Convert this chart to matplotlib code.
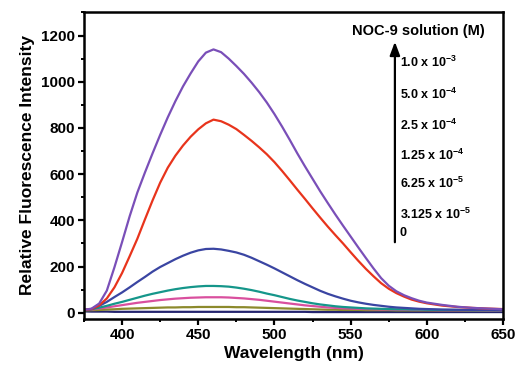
import numpy as np
import matplotlib
matplotlib.use("Agg")
import matplotlib.pyplot as plt
from matplotlib.ticker import MultipleLocator

plt.rcParams['font.family'] = ['Liberation Sans', 'DejaVu Sans']
plt.rcParams['font.weight'] = 'bold'
plt.rcParams['mathtext.fontset'] = 'custom'
plt.rcParams['mathtext.rm'] = 'Liberation Sans:bold'
plt.rcParams['mathtext.it'] = 'Liberation Sans:bold'
plt.rcParams['mathtext.bf'] = 'Liberation Sans:bold'

# wavelength (nm)
wavelength = [375, 380, 385, 390, 395, 400, 405, 410, 415, 420, 425, 430, 435, 440, 445,
              450, 455, 460, 465, 470, 475, 480, 485, 490, 495, 500, 505, 510, 515, 520,
              525, 530, 535, 540, 545, 550, 555, 560, 565, 570, 575, 580, 585, 590, 595,
              600, 610, 620, 630, 640, 650]

# fluorescence intensity for each NOC-9 concentration
i_1e3 = [12, 18, 40, 96, 197, 306, 418, 520, 607, 690, 770, 846, 916, 980, 1036,
         1088, 1126, 1140, 1128, 1100, 1068, 1034, 996, 955, 910, 860, 806, 749, 690, 634,
         580, 526, 475, 425, 377, 330, 283, 237, 192, 150, 117, 93, 76, 63, 52,
         44, 34, 26, 21, 18, 15]
i_5e4 = [12, 16, 32, 62, 110, 172, 245, 320, 404, 486, 563, 628, 680, 724, 762,
         794, 820, 836, 829, 814, 795, 770, 744, 716, 686, 652, 614, 574, 533, 493,
         452, 412, 373, 336, 300, 262, 225, 190, 158, 128, 104, 85, 70, 57, 48,
         41, 31, 25, 21, 18, 16]
i_25e4 = [12, 16, 30, 47, 68, 88, 110, 133, 155, 178, 198, 215, 232, 247, 260,
          270, 276, 277, 274, 268, 261, 251, 238, 223, 208, 192, 175, 158, 141, 125,
          110, 95, 82, 71, 61, 52, 45, 39, 34, 30, 26, 23, 21, 19, 17,
          16, 14, 13, 12, 12, 11]
i_125e4 = [12, 15, 22, 30, 39, 47, 56, 65, 74, 82, 89, 96, 102, 107, 111,
           114, 116, 116, 115, 113, 109, 104, 98, 91, 83, 76, 68, 60, 53, 47,
           41, 36, 32, 28, 25, 23, 21, 19, 18, 17, 16, 15, 15, 14, 14,
           13, 12, 12, 11, 11, 11]
i_625e5 = [12, 14, 18, 23, 28, 33, 38, 43, 47, 51, 55, 58, 61, 63, 65,
           66, 67, 67, 67, 66, 64, 62, 59, 56, 52, 48, 44, 40, 36, 32,
           29, 26, 23, 21, 19, 18, 17, 16, 15, 14, 14, 13, 13, 12, 12,
           12, 11, 11, 11, 10, 10]
i_3125e5 = [10, 11, 12, 14, 15, 17, 18, 19, 20, 21, 22, 23, 23, 24, 24,
            25, 25, 25, 25, 25, 24, 24, 23, 22, 21, 20, 19, 18, 17, 16,
            15, 14, 13, 13, 12, 12, 12, 11, 11, 11, 11, 10, 10, 10, 10,
            10, 10, 10, 9, 9, 9]
i_0 = [6, 5, 5, 5, 4, 4, 4, 4, 4, 4, 4, 4, 4, 4, 4,
       4, 4, 4, 4, 4, 4, 4, 4, 4, 4, 4, 4, 4, 4, 4,
       3, 3, 3, 3, 3, 3, 3, 3, 3, 3, 3, 3, 3, 3, 3,
       3, 3, 3, 3, 3, 3]

series = [i_0, i_3125e5, i_625e5, i_125e4, i_25e4, i_5e4, i_1e3]
colors = ['#25256e', '#8c8a2c', '#d94f9e', '#15968a', '#3a45a2', '#e8341c', '#7a4fb8']
conc_labels = [r'1.0 x 10$^{-3}$', r'5.0 x 10$^{-4}$', r'2.5 x 10$^{-4}$',
               r'1.25 x 10$^{-4}$', r'6.25 x 10$^{-5}$', r'3.125 x 10$^{-5}$', '0']
label_y = [0.837, 0.733, 0.629, 0.534, 0.443, 0.342, 0.280]

fig = plt.figure(figsize=(5.19, 3.71), dpi=100)
ax = fig.add_axes([0.1618, 0.1402, 0.8074, 0.8275])

for y, c in zip(series, colors):
    ax.plot(wavelength, y, color=c, lw=1.6, solid_joinstyle='round')

ax.set_xlim(375, 650)
ax.set_ylim(-27, 1302)
ax.xaxis.set_major_locator(MultipleLocator(50))
ax.xaxis.set_minor_locator(MultipleLocator(25))
ax.yaxis.set_major_locator(MultipleLocator(200))
ax.yaxis.set_minor_locator(MultipleLocator(100))
ax.tick_params(which='major', direction='out', length=4.5, width=1.6, labelsize=11, pad=2)
ax.tick_params(which='minor', direction='out', length=2.5, width=1.4)
for s in ax.spines.values():
    s.set_linewidth(1.8)

ax.set_xlabel('Wavelength (nm)', fontsize=12.5, fontweight='bold', labelpad=3)
ax.set_ylabel('Relative Fluorescence Intensity', fontsize=12.5, fontweight='bold', labelpad=4)

# concentration annotation
ax.text(0.797, 0.938, 'NOC-9 solution (M)', transform=ax.transAxes,
        ha='center', va='center', fontsize=10.5, fontweight='bold')
ax.annotate('', xy=(0.742, 0.912), xytext=(0.742, 0.241), xycoords='axes fraction',
            arrowprops=dict(arrowstyle='-|>,head_length=0.8,head_width=0.3',
                            color='black', lw=1.6))
for lab, yy in zip(conc_labels, label_y):
    ax.text(0.754, yy, lab, transform=ax.transAxes, ha='left', va='center',
            fontsize=9, fontweight='bold')

fig.savefig('out.png', dpi=100)
